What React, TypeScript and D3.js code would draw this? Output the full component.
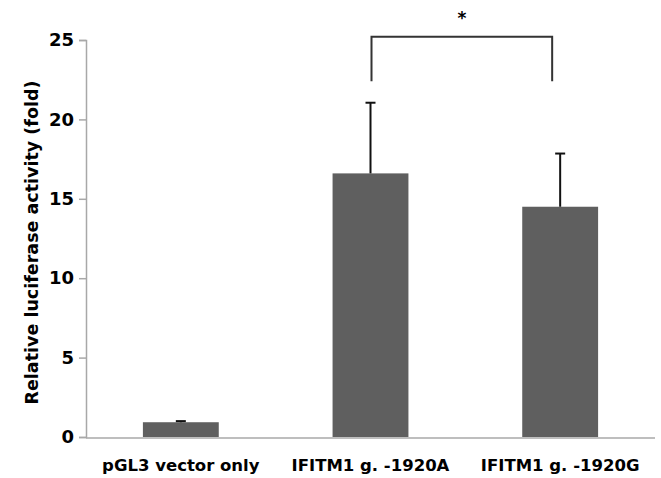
import { useRef, useEffect } from "react"
import * as d3 from "d3"

const categories = ["pGL3 vector only", "IFITM1 g. -1920A", "IFITM1 g. -1920G"]
const means = [0.93, 16.6, 14.5]
const errors = [0.07, 4.45, 3.35]
const yTicks = [0, 5, 10, 15, 20, 25]
const yTitle = "Relative luciferase activity (fold)"
const sigPair = [1, 2]
const sigLabel = "*"

const App = () => {
  const svgRef = useRef<SVGSVGElement>(null)

  useEffect(() => {
    const svg = d3.select(svgRef.current)
    svg.selectAll("*").remove()

    const width = 661
    const height = 478
    const left = 86
    const right = 655
    const top = 40
    const bottom = 437
    const font = "'DejaVu Sans', sans-serif"

    const x = d3.scaleBand().domain(categories).range([left, right]).paddingInner(0.6).paddingOuter(0.3)
    const y = d3.scaleLinear().domain([0, 25]).range([bottom, top])

    svg.attr("width", width).attr("height", height)
    svg.append("rect").attr("width", width).attr("height", height).attr("fill", "white")

    // y axis
    const yAxis = svg
      .append("g")
      .attr("transform", `translate(${left},0)`)
      .call(d3.axisLeft(y).tickValues(yTicks).tickSize(7).tickPadding(5))
    yAxis.select(".domain").attr("stroke", "#a8a8a8").attr("stroke-width", 1.5)
    yAxis.selectAll(".tick line").attr("stroke", "#a8a8a8").attr("stroke-width", 1.5)
    yAxis
      .selectAll(".tick text")
      .attr("font-family", font)
      .attr("font-weight", "bold")
      .attr("font-size", 18)
      .attr("fill", "#000")

    // x baseline
    svg
      .append("line")
      .attr("x1", left)
      .attr("x2", right)
      .attr("y1", y(0) + 1)
      .attr("y2", y(0) + 1)
      .attr("stroke", "#a8a8a8")
      .attr("stroke-width", 1.5)

    // bars
    svg
      .selectAll("rect.bar")
      .data(categories)
      .enter()
      .append("rect")
      .attr("class", "bar")
      .attr("x", (d) => x(d)!)
      .attr("width", x.bandwidth())
      .attr("y", (d, i) => y(means[i]))
      .attr("height", (d, i) => y(0) - y(means[i]))
      .attr("fill", "#5f5f5f")

    // error bars
    const eb = svg.append("g").attr("stroke", "#111").attr("stroke-width", 2)
    categories.forEach((c, i) => {
      const cx = x(c)! + x.bandwidth() / 2
      eb.append("line").attr("x1", cx).attr("x2", cx).attr("y1", y(means[i])).attr("y2", y(means[i] + errors[i]))
      eb.append("line")
        .attr("x1", cx - 5)
        .attr("x2", cx + 5)
        .attr("y1", y(means[i] + errors[i]))
        .attr("y2", y(means[i] + errors[i]))
    })

    // category labels
    svg
      .selectAll("text.cat")
      .data(categories)
      .enter()
      .append("text")
      .attr("class", "cat")
      .attr("x", (d) => x(d)! + x.bandwidth() / 2)
      .attr("y", 471)
      .attr("text-anchor", "middle")
      .attr("font-family", font)
      .attr("font-weight", "bold")
      .attr("font-size", 16.5)
      .text((d) => d)

    // y title
    svg
      .append("text")
      .attr("transform", `translate(38,${(top + bottom) / 2 + 4}) rotate(-90)`)
      .attr("text-anchor", "middle")
      .attr("font-family", font)
      .attr("font-weight", "bold")
      .attr("font-size", 17.5)
      .text(yTitle)

    // significance bracket
    const x1 = x(categories[sigPair[0]])! + x.bandwidth() / 2 + 1
    const x2 = x(categories[sigPair[1]])! + x.bandwidth() / 2 - 8
    const by = y(25.2)
    const legY = y(22.4)
    svg
      .append("path")
      .attr("d", `M${x1},${legY}V${by}H${x2}V${legY}`)
      .attr("fill", "none")
      .attr("stroke", "#333")
      .attr("stroke-width", 2)
    svg
      .append("text")
      .attr("x", (x1 + x2) / 2)
      .attr("y", 24)
      .attr("text-anchor", "middle")
      .attr("font-family", font)
      .attr("font-weight", "bold")
      .attr("font-size", 17)
      .text(sigLabel)
  }, [])

  return <svg ref={svgRef} style={{ position: "absolute", left: 0, top: 0 }} />
}

export default App
